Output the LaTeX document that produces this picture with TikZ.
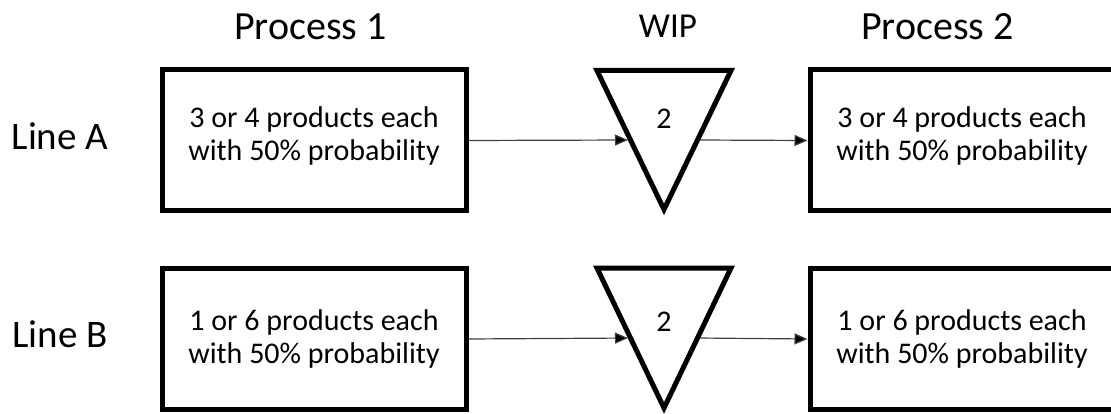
\documentclass[tikz,border=0pt]{standalone}
\usepackage{fontspec}
\setmainfont{Carlito}
\usetikzlibrary{arrows.meta,calc}
\begin{document}
\begin{tikzpicture}[x=1pt,y=-1pt,
  stage/.style={draw, line width=5pt, minimum width=304pt, minimum height=141pt, inner sep=0pt},
  stagetext/.style={align=center, inner sep=0pt, font=\fontsize{30}{33.5}\selectfont},
  flow/.style={line width=1.2pt, draw=black!75, -{Triangle[length=13pt,width=11pt,fill=black]}},
  buffer/.style={draw, line width=5pt, line join=miter, miter limit=10},
  head/.style={anchor=base, inner sep=0pt, font=\fontsize{40}{46}\selectfont},
  rowhead/.style={anchor=base, inner sep=0pt, font=\fontsize{39}{45}\selectfont},
  wiphead/.style={anchor=base, inner sep=0pt, font=\fontsize{35}{40}\selectfont},
  count/.style={anchor=base, inner sep=0pt, font=\fontsize{30}{34}\selectfont},
]
\useasboundingbox (0,0) rectangle (1111,414);
\clip (0,0) rectangle (1111,414);

% column headings
\node[head] (h1) at (310.5,39.5) {Process 1};
\node[wiphead] (hw) at (668,37.5) {WIP};
\node[head] (h2) at (937.5,39.5) {Process 2};

% row labels
\node[rowhead] (la) at (60,150) {Line A};
\node[rowhead] (lb) at (60,347) {Line B};

% Line A
\node[stage] (a1) at (314,140.5) {};
\node[stagetext] (a1t) at ($(a1.center)+(0,-4.5)$) {3 or 4 products each\\with 50\% probability};
\node[stage] (a2) at (962,140.5) {};
\node[stagetext] (a2t) at ($(a2.center)+(0,-4.5)$) {3 or 4 products each\\with 50\% probability};
\coordinate (atl) at (597,70.5);
\coordinate (atr) at (731,70.5);
\coordinate (atb) at (664,209.5);
\draw[buffer] (atl) -- (atr) -- (atb) -- cycle;
\node[count] (aw) at (664,128.3) {2};
\coordinate (ain) at ($(atl)!0.5!(atb)$);
\coordinate (aout) at ($(atr)!0.5!(atb)$);
\draw[flow, shorten >=2.5pt] (a1.east) -- (ain);
\draw[flow, shorten <=2.5pt] (aout) -- (a2.west);

% Line B
\node[stage] (b1) at (314,339) {};
\node[stagetext] (b1t) at (b1.center) {1 or 6 products each\\with 50\% probability};
\node[stage] (b2) at (962,339) {};
\node[stagetext] (b2t) at (b2.center) {1 or 6 products each\\with 50\% probability};
\coordinate (btl) at (597,268);
\coordinate (btr) at (731,268);
\coordinate (btb) at (664,408);
\draw[buffer] (btl) -- (btr) -- (btb) -- cycle;
\node[count] (bw) at (664,331.5) {2};
\coordinate (bin) at ($(btl)!0.5!(btb)$);
\coordinate (bout) at ($(btr)!0.5!(btb)$);
\draw[flow, shorten >=2.5pt] (b1.east) -- (bin);
\draw[flow, shorten <=2.5pt] (bout) -- (b2.west);
\end{tikzpicture}
\end{document}
